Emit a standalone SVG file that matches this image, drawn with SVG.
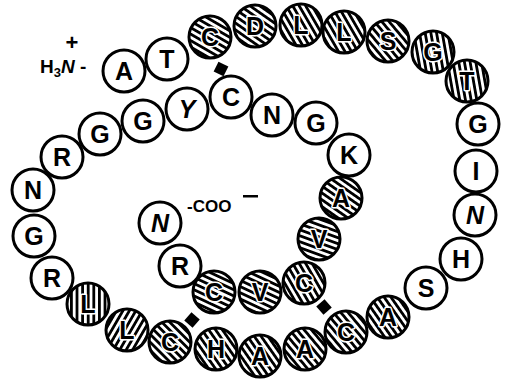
<svg xmlns="http://www.w3.org/2000/svg" width="507" height="381" viewBox="0 0 507 381">
<style>
.n circle{stroke:#000;stroke-width:3}
.w circle{fill:#fff}
.n text{font-family:"Liberation Sans",Arial,sans-serif;font-weight:bold;font-size:25px;text-anchor:middle;fill:#000}
.h text{stroke:#fff;stroke-width:3;paint-order:stroke;stroke-linejoin:round}
.i text{font-style:italic}
.lab{font-family:"Liberation Sans",Arial,sans-serif;font-weight:bold;fill:#000}
.bond{fill:#000}
</style>
<defs>
<pattern id="s" width="8" height="5.6" patternUnits="userSpaceOnUse"><rect width="8" height="5.6" fill="#fff"/><rect width="8" height="2.8" fill="#000"/></pattern>
<pattern id="p20" href="#s" patternTransform="rotate(20)"/>
<pattern id="p25" href="#s" patternTransform="rotate(25)"/>
<pattern id="p30" href="#s" patternTransform="rotate(30)"/>
<pattern id="p35" href="#s" patternTransform="rotate(35)"/>
<pattern id="p45" href="#s" patternTransform="rotate(45)"/>
<pattern id="p50" href="#s" patternTransform="rotate(50)"/>
<pattern id="p55" href="#s" patternTransform="rotate(55)"/>
<pattern id="p60" href="#s" patternTransform="rotate(60)"/>
<pattern id="p80" href="#s" patternTransform="rotate(80)"/>
<pattern id="p90" href="#s" patternTransform="rotate(90)"/>
<pattern id="p120" href="#s" patternTransform="rotate(120)"/>
</defs>
<rect width="507" height="381" fill="#fff"/>

<g id="connectors">
<rect class="bond" x="-5.5" y="-5.5" width="11" height="11" transform="translate(221 69) rotate(26)"/>
<rect class="bond" x="-5.5" y="-5.5" width="11" height="11" transform="translate(192 320) rotate(41)"/>
<rect class="bond" x="-5.5" y="-5.5" width="11" height="11" transform="translate(324 307) rotate(49)"/>
</g>

<g id="labels">
<text class="lab" x="72" y="50" font-size="22" text-anchor="middle">+</text>
<text class="lab" x="40" y="73" font-size="19">H<tspan font-size="13" dy="4">3</tspan><tspan dy="-4" font-style="italic">N</tspan><tspan> -</tspan></text>
<text class="lab" x="187" y="212" font-size="17" font-weight="normal">-COO</text>
<rect x="243" y="195" width="15" height="2.5" fill="#000"/>
</g>

<g id="res1" class="n w"><circle cx="124" cy="71" r="21"/><text x="124" y="80">A</text></g>
<g id="res2" class="n w"><circle cx="167" cy="59" r="21"/><text x="167" y="68">T</text></g>
<g id="res3" class="n h"><circle cx="210" cy="37" r="21" fill="url(#p30)"/><text x="210" y="46">C</text></g>
<g id="res4" class="n h"><circle cx="255" cy="26" r="21" fill="url(#p35)"/><text x="255" y="35">D</text></g>
<g id="res5" class="n h"><circle cx="301" cy="25" r="21" fill="url(#p60)"/><text x="301" y="34">L</text></g>
<g id="res6" class="n h"><circle cx="344" cy="32" r="21" fill="url(#p60)"/><text x="344" y="41">L</text></g>
<g id="res7" class="n h"><circle cx="388" cy="41" r="21" fill="url(#p50)"/><text x="388" y="50">S</text></g>
<g id="res8" class="n h"><circle cx="433" cy="52" r="21" fill="url(#p80)"/><text x="433" y="61">G</text></g>
<g id="res9" class="n h"><circle cx="467" cy="81" r="21" fill="url(#p80)"/><text x="467" y="90">T</text></g>
<g id="res10" class="n w"><circle cx="478" cy="124" r="21"/><text x="478" y="133">G</text></g>
<g id="res11" class="n w"><circle cx="476" cy="171" r="21"/><text x="476" y="180">I</text></g>
<g id="res12" class="n w i"><circle cx="475" cy="215" r="21"/><text x="475" y="224">N</text></g>
<g id="res13" class="n w"><circle cx="461" cy="259" r="21"/><text x="461" y="268">H</text></g>
<g id="res14" class="n w"><circle cx="426" cy="288" r="21"/><text x="426" y="297">S</text></g>
<g id="res15" class="n h"><circle cx="388" cy="317" r="21" fill="url(#p55)"/><text x="388" y="326">A</text></g>
<g id="res16" class="n h"><circle cx="346" cy="332" r="21" fill="url(#p50)"/><text x="346" y="341">C</text></g>
<g id="res17" class="n h"><circle cx="305" cy="349" r="21" fill="url(#p50)"/><text x="305" y="358">A</text></g>
<g id="res18" class="n h"><circle cx="260" cy="356" r="21" fill="url(#p55)"/><text x="260" y="365">A</text></g>
<g id="res19" class="n h"><circle cx="216" cy="349" r="21" fill="url(#p55)"/><text x="216" y="358">H</text></g>
<g id="res20" class="n h"><circle cx="170" cy="342" r="21" fill="url(#p45)"/><text x="170" y="351">C</text></g>
<g id="res21" class="n h"><circle cx="127" cy="330" r="21" fill="url(#p120)"/><text x="127" y="339">L</text></g>
<g id="res22" class="n h"><circle cx="88" cy="304" r="21" fill="url(#p90)"/><text x="88" y="313">L</text></g>
<g id="res23" class="n w"><circle cx="52" cy="278" r="21"/><text x="52" y="287">R</text></g>
<g id="res24" class="n w"><circle cx="34" cy="236" r="21"/><text x="34" y="245">G</text></g>
<g id="res25" class="n w"><circle cx="33" cy="190" r="21"/><text x="33" y="199">N</text></g>
<g id="res26" class="n w"><circle cx="62" cy="157" r="21"/><text x="62" y="166">R</text></g>
<g id="res27" class="n w"><circle cx="100" cy="134" r="21"/><text x="100" y="143">G</text></g>
<g id="res28" class="n w"><circle cx="143" cy="121" r="21"/><text x="143" y="130">G</text></g>
<g id="res29" class="n w i"><circle cx="187" cy="109" r="21"/><text x="187" y="118">Y</text></g>
<g id="res30" class="n w"><circle cx="231" cy="97" r="21"/><text x="231" y="106">C</text></g>
<g id="res31" class="n w"><circle cx="272" cy="115" r="21"/><text x="272" y="124">N</text></g>
<g id="res32" class="n w"><circle cx="316" cy="123" r="21"/><text x="316" y="132">G</text></g>
<g id="res33" class="n w"><circle cx="349" cy="155" r="21"/><text x="349" y="164">K</text></g>
<g id="res34" class="n h"><circle cx="341" cy="198" r="21" fill="url(#p35)"/><text x="341" y="207">A</text></g>
<g id="res35" class="n h"><circle cx="319" cy="239" r="21" fill="url(#p20)"/><text x="319" y="248">V</text></g>
<g id="res36" class="n h"><circle cx="304" cy="283" r="21" fill="url(#p60)"/><text x="304" y="292">C</text></g>
<g id="res37" class="n h"><circle cx="260" cy="292" r="21" fill="url(#p25)"/><text x="260" y="301">V</text></g>
<g id="res38" class="n h"><circle cx="214" cy="292" r="21" fill="url(#p25)"/><text x="214" y="301">C</text></g>
<g id="res39" class="n w"><circle cx="180" cy="266" r="21"/><text x="180" y="275">R</text></g>
<g id="res40" class="n w i"><circle cx="160" cy="223" r="21"/><text x="160" y="232">N</text></g>
</svg>
